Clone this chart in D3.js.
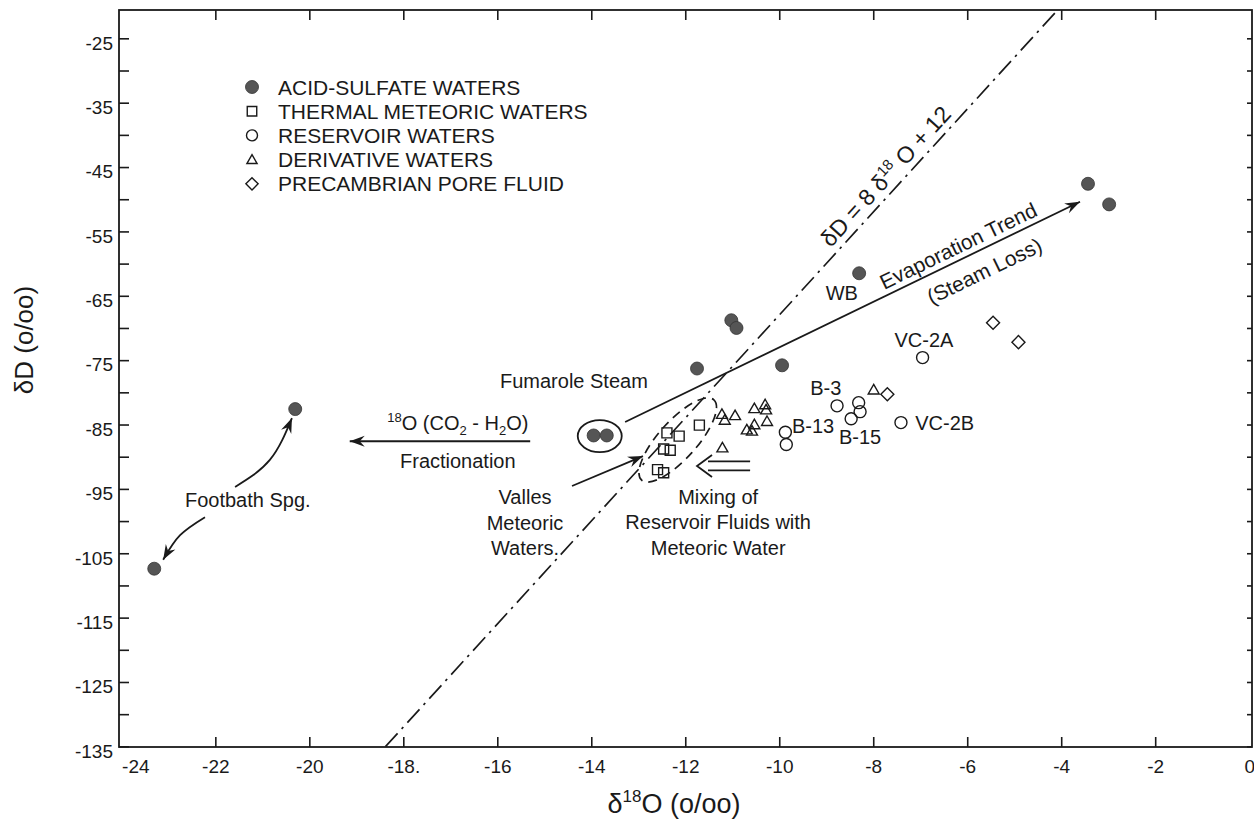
<!DOCTYPE html>
<html><head><meta charset="utf-8">
<script src="https://cdn.jsdelivr.net/npm/d3@7"></script>
<style>body{margin:0;background:#fff}</style>
</head><body>
<svg id="chart" width="1254" height="829"></svg>
<script>
// ---------- data ----------
const xTicks = [-24,-22,-20,-18,-16,-14,-12,-10,-8,-6,-4,-2,0];
const xTickLabels = ["-24","-22","-20","-18.","-16","-14","-12","-10","-8","-6","-4","-2","0"];
const yLabelTicks = [-25,-35,-45,-55,-65,-75,-85,-95,-105,-115,-125,-135];
const yTickLabels = ["-25","-35","-45","-55","-65","-75","-85","-95","-105","-115","-125","-135"];
const yAllTicks = [-135,-130,-125,-120,-115,-110,-105,-100,-95,-90,-85,-80,-75,-70,-65,-60,-55,-50,-45,-40,-35,-30,-25];

const legendLabels = ["ACID-SULFATE WATERS","THERMAL METEORIC WATERS","RESERVOIR WATERS","DERIVATIVE WATERS","PRECAMBRIAN PORE FLUID"];

// [δ18O, δD]
const acidSulfate = [[-20.3,-82.6],[-23.3,-107.4],[-13.95,-86.7],[-13.67,-86.7],[-11.75,-76.3],[-11.02,-68.8],[-10.91,-70.0],[-9.94,-75.8],[-8.30,-61.5],[-3.43,-47.6],[-2.98,-50.8]];
const thermalMeteoric = [[-12.39,-86.3],[-12.13,-86.8],[-11.70,-85.1],[-12.46,-88.8],[-12.32,-89.0],[-12.59,-92.0],[-12.46,-92.5]];
const reservoir = [[-6.95,-74.6],[-8.77,-82.1],[-8.31,-81.6],[-8.28,-83.0],[-8.47,-84.1],[-7.41,-84.7],[-9.87,-86.2],[-9.85,-88.1]];
const derivative = [[-11.22,-83.4],[-11.16,-84.3],[-10.94,-83.6],[-10.53,-82.5],[-10.30,-81.9],[-10.28,-82.7],[-10.26,-84.5],[-10.69,-85.8],[-10.58,-86.0],[-10.53,-85.0],[-11.21,-88.6],[-7.99,-79.6]];
const precambrian = [[-7.70,-80.3],[-5.45,-69.2],[-4.91,-72.2]];

const meteoricSlope = 8, meteoricIntercept = 12;
const meteoricRange = [-18.38,-4.07];

const sampleLabels = [
  {t:"WB", x:-8.67, y:-65.7},
  {t:"VC-2A", x:-6.92, y:-73.0},
  {t:"B-3", x:-9.01, y:-80.4},
  {t:"B-13", x:-9.28, y:-86.3},
  {t:"B-15", x:-8.28, y:-88.0},
  {t:"VC-2B", x:-6.48, y:-85.9}
];

const evapArrow = [[-13.28,-84.6],[-3.60,-50.4]];
const fracArrow = [[-15.30,-87.6],[-19.14,-87.6]];
const vallesArrow = [[-14.41,-94.55],[-12.90,-89.9]];
const mixArrow = [[-10.62,-91.44],[-11.75,-91.44]];
const footUp = [[-21.58,-94.7],[-20.84,-90.5],[-20.37,-84.0]];
const footDown = [[-22.22,-99.4],[-22.75,-102.2],[-23.11,-106.0]];
const fumaroleCenter = [-13.82,-86.8];
const vallesCenter = [-12.16,-87.4];

// ---------- setup ----------
const svg = d3.select("#chart");
const pL=119, pR=1252, pT=10, pB=747;
const x = d3.scaleLinear().domain([-24.05,0.06]).range([pL,pR]);
const y = d3.scaleLinear().domain([-135.1,-20.6]).range([pB,pT]);
const FONT = "'Liberation Sans', Arial, Helvetica, sans-serif";
const ink = "#1a1a1a";
svg.append("rect").attr("width",1254).attr("height",829).attr("fill","#fff");

const defs = svg.append("defs");
defs.append("clipPath").attr("id","plotclip").append("rect")
  .attr("x",pL).attr("y",pT).attr("width",pR-pL).attr("height",pB-pT);
defs.append("marker").attr("id","barb").attr("viewBox","-16 -7 18 14")
  .attr("markerUnits","userSpaceOnUse").attr("markerWidth",18).attr("markerHeight",14)
  .attr("refX",0).attr("refY",0).attr("orient","auto")
  .append("path").attr("d","M0,0 L-15,-5.5 L-10,0 L-15,5.5 Z").attr("fill",ink);

// ---------- axes ----------
const gx = svg.append("g").attr("transform",`translate(0,${pB})`)
  .call(d3.axisBottom(x).tickValues(xTicks).tickSizeInner(-10).tickSizeOuter(0).tickPadding(13)
    .tickFormat((d,i)=>xTickLabels[i]));
gx.select(".domain").remove();
gx.selectAll(".tick line").filter(d=>d===-24||d===0).remove();
gx.selectAll(".tick").filter(d=>d===-24).select("text").attr("dx",14);

const gy = svg.append("g").attr("transform",`translate(${pL},0)`)
  .call(d3.axisLeft(y).tickValues(yAllTicks).tickSizeInner(-10).tickSizeOuter(0).tickPadding(6)
    .tickFormat(d=>{const i=yLabelTicks.indexOf(d); return i>=0?yTickLabels[i]:"";}));
gy.select(".domain").remove();
gy.selectAll("text").attr("dy","0.57em");

const gr = svg.append("g").attr("transform",`translate(${pR},0)`)
  .call(d3.axisLeft(y).tickValues(yAllTicks).tickSizeInner(5).tickSizeOuter(0).tickFormat(""));
gr.select(".domain").remove();
const gt = svg.append("g").attr("transform",`translate(0,${pT})`)
  .call(d3.axisBottom(x).tickValues(xTicks.slice(1,-1)).tickSizeInner(10).tickSizeOuter(0).tickFormat(""));
gt.select(".domain").remove();

[gx,gy,gr,gt].forEach(g=>{
  g.selectAll(".tick line").attr("stroke",ink).attr("stroke-width",1.6);
  g.selectAll("text").attr("font-family",FONT).attr("font-size",19).attr("fill",ink);
});

svg.append("rect").attr("x",pL).attr("y",pT).attr("width",pR-pL).attr("height",pB-pT)
  .attr("fill","none").attr("stroke",ink).attr("stroke-width",1.8);

// axis titles
const yt = svg.append("text").attr("transform","translate(33,340) rotate(-90)")
  .attr("text-anchor","middle").attr("font-family",FONT).attr("font-size",26).attr("fill",ink);
yt.text("δD (o/oo)");
const xt = svg.append("text").attr("x",674).attr("y",813)
  .attr("text-anchor","middle").attr("font-family",FONT).attr("font-size",27).attr("fill",ink);
xt.append("tspan").text("δ");
xt.append("tspan").attr("font-size",17).attr("dy",-11).text("18");
xt.append("tspan").attr("dy",11).text("O (o/oo)");

// ---------- meteoric water line ----------
const plot = svg.append("g").attr("clip-path","url(#plotclip)");
plot.append("line")
  .attr("x1",x(meteoricRange[0])).attr("y1",y(meteoricSlope*meteoricRange[0]+meteoricIntercept))
  .attr("x2",x(meteoricRange[1])).attr("y2",y(meteoricSlope*meteoricRange[1]+meteoricIntercept))
  .attr("stroke",ink).attr("stroke-width",1.7).attr("stroke-dasharray","18,6,2.5,6");

(function(){
  const x0=-7.5, y0=meteoricSlope*x0+meteoricIntercept;
  const px=x(x0), py=y(y0);
  const ang=Math.atan2(y(meteoricSlope*(x0+1)+meteoricIntercept)-py, x(x0+1)-px);
  const nx=Math.sin(ang), ny=-Math.cos(ang), off=7;
  const t=svg.append("text").attr("transform",`translate(${px+nx*off},${py+ny*off}) rotate(${ang*180/Math.PI})`)
    .attr("text-anchor","middle").attr("font-family",FONT).attr("font-size",23).attr("fill",ink);
  t.append("tspan").text("δD = 8 δ");
  t.append("tspan").attr("font-size",15).attr("dy",-9).text("18");
  t.append("tspan").attr("dy",9).text(" O + 12");
})();

// ---------- annotations ----------
const lineGen = d3.line().x(d=>x(d[0])).y(d=>y(d[1]));
const curveGen = d3.line().x(d=>x(d[0])).y(d=>y(d[1])).curve(d3.curveNatural);
function arrow(pts, gen){
  svg.append("path").attr("d",(gen||lineGen)(pts)).attr("fill","none")
    .attr("stroke",ink).attr("stroke-width",1.8).attr("marker-end","url(#barb)");
}
arrow(evapArrow);
arrow(fracArrow);
arrow(vallesArrow);
arrow(footUp, curveGen);
arrow(footDown, curveGen);

// evaporation text
(function(){
  const p0=[x(evapArrow[0][0]),y(evapArrow[0][1])], p1=[x(evapArrow[1][0]),y(evapArrow[1][1])];
  const ang=Math.atan2(p1[1]-p0[1],p1[0]-p0[0]);
  const nx=Math.sin(ang), ny=-Math.cos(ang);
  function lab(frac,off,txt){
    const cx=p0[0]+(p1[0]-p0[0])*frac, cy=p0[1]+(p1[1]-p0[1])*frac;
    svg.append("text").attr("transform",`translate(${cx+nx*off},${cy+ny*off}) rotate(${ang*180/Math.PI})`)
      .attr("text-anchor","middle").attr("font-family",FONT).attr("font-size",21).attr("fill",ink).text(txt);
  }
  lab(0.745,6,"Evaporation Trend");
  lab(0.77,-28,"(Steam Loss)");
})();

// mixing double arrow
(function(){
  const tx=x(mixArrow[0][0]), hx=x(mixArrow[1][0]), cy=y(mixArrow[0][1]);
  const d=`M${tx},${cy-4.5} L${hx+11},${cy-4.5} M${tx},${cy+4.5} L${hx+11},${cy+4.5} M${hx+15},${cy-11} L${hx},${cy} L${hx+15},${cy+11}`;
  svg.append("path").attr("d",d).attr("fill","none").attr("stroke",ink).attr("stroke-width",1.8);
})();

// ellipses
svg.append("ellipse").attr("cx",x(fumaroleCenter[0])).attr("cy",y(fumaroleCenter[1]))
  .attr("rx",22).attr("ry",16).attr("fill","none").attr("stroke",ink).attr("stroke-width",1.8);
svg.append("ellipse").attr("transform",`translate(${x(vallesCenter[0])},${y(vallesCenter[1])}) rotate(-48)`)
  .attr("rx",54).attr("ry",19).attr("fill","none").attr("stroke",ink).attr("stroke-width",1.7)
  .attr("stroke-dasharray","9,6");

// text annotations
function txt(s, xv, yv, anchor, size){
  return svg.append("text").attr("x",x(xv)).attr("y",y(yv)).attr("text-anchor",anchor||"middle")
    .attr("font-family",FONT).attr("font-size",size||20).attr("fill",ink).text(s);
}
txt("Fumarole Steam",-14.37,-79.3);
txt("Footbath Spg.",-21.31,-97.8);
txt("Valles",-15.41,-97.35);
txt("Meteoric",-15.41,-101.39);
txt("Waters.",-15.41,-105.27);
txt("Mixing of",-11.30,-97.35);
txt("Reservoir Fluids with",-11.30,-101.23);
txt("Meteoric Water",-11.30,-105.27);
txt("Fractionation",-16.84,-91.76);
(function(){
  const t=svg.append("text").attr("x",x(-16.84)).attr("y",y(-85.85)).attr("text-anchor","middle")
    .attr("font-family",FONT).attr("font-size",20).attr("fill",ink);
  t.append("tspan").attr("font-size",13).attr("dy",-8).text("18");
  t.append("tspan").attr("dy",8).text("O (CO");
  t.append("tspan").attr("font-size",13).attr("dy",5).text("2");
  t.append("tspan").attr("dy",-5).text(" - H");
  t.append("tspan").attr("font-size",13).attr("dy",5).text("2");
  t.append("tspan").attr("dy",-5).text("O)");
})();
sampleLabels.forEach(d=>txt(d.t,d.x,d.y));

// ---------- points ----------
const fillGray="#555";
const sq = d3.symbol().type(d3.symbolSquare).size(100)();
const tri = d3.symbol().type(d3.symbolTriangle).size(52)();
const dia = d3.symbol().type(d3.symbolSquare).size(85)();
svg.append("g").selectAll("path").data(thermalMeteoric).join("path")
  .attr("d",sq).attr("transform",d=>`translate(${x(d[0])},${y(d[1])})`)
  .attr("fill","none").attr("stroke",ink).attr("stroke-width",1.4);
svg.append("g").selectAll("path").data(derivative).join("path")
  .attr("d",tri).attr("transform",d=>`translate(${x(d[0])},${y(d[1])+1})`)
  .attr("fill","none").attr("stroke",ink).attr("stroke-width",1.4);
svg.append("g").selectAll("circle").data(reservoir).join("circle")
  .attr("cx",d=>x(d[0])).attr("cy",d=>y(d[1])).attr("r",6)
  .attr("fill","none").attr("stroke",ink).attr("stroke-width",1.4);
svg.append("g").selectAll("path").data(precambrian).join("path")
  .attr("d",dia).attr("transform",d=>`translate(${x(d[0])},${y(d[1])}) rotate(45)`)
  .attr("fill","none").attr("stroke",ink).attr("stroke-width",1.4);
svg.append("g").selectAll("circle").data(acidSulfate).join("circle")
  .attr("cx",d=>x(d[0])).attr("cy",d=>y(d[1])).attr("r",6.5)
  .attr("fill",fillGray).attr("stroke","#333").attr("stroke-width",0.8);

// ---------- legend ----------
const lg = svg.append("g");
const lsx=252, ltx=278, ly0=87, ldy=24.2;
const legendSyms = [
  g=>g.append("circle").attr("r",6.5).attr("fill",fillGray).attr("stroke","#333").attr("stroke-width",0.8),
  g=>g.append("path").attr("d",d3.symbol().type(d3.symbolSquare).size(90)()).attr("fill","none").attr("stroke",ink).attr("stroke-width",1.4),
  g=>g.append("circle").attr("r",5.5).attr("fill","none").attr("stroke",ink).attr("stroke-width",1.4),
  g=>g.append("path").attr("d",d3.symbol().type(d3.symbolTriangle).size(45)()).attr("transform","translate(0,1)").attr("fill","none").attr("stroke",ink).attr("stroke-width",1.4),
  g=>g.append("path").attr("d",d3.symbol().type(d3.symbolSquare).size(75)()).attr("transform","rotate(45)").attr("fill","none").attr("stroke",ink).attr("stroke-width",1.4)
];
legendLabels.forEach((lab,i)=>{
  const g=lg.append("g").attr("transform",`translate(${lsx},${ly0+i*ldy})`);
  legendSyms[i](g);
  lg.append("text").attr("x",ltx).attr("y",ly0+i*ldy+7.5).attr("font-family",FONT).attr("font-size",21)
    .attr("fill",ink).text(lab);
});
</script>
</body></html>
